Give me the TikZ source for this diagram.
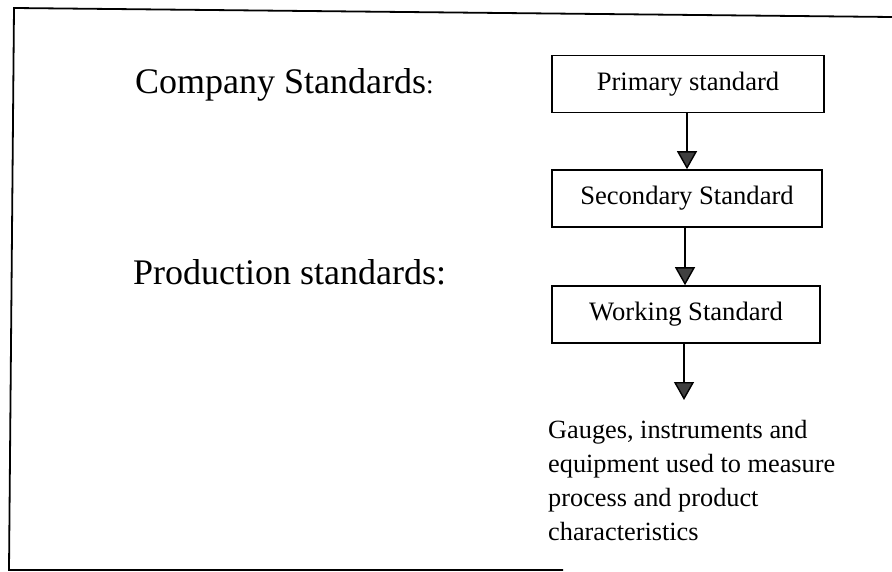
\documentclass[tikz,border=0pt]{standalone}
\usepackage{fontspec}
\setmainfont{Liberation Serif}
\usetikzlibrary{arrows.meta}
\begin{document}
\begin{tikzpicture}[x=1pt,y=-1pt,
  stdbox/.style={draw=black,line width=1.6pt,minimum width=270pt,minimum height=57pt,
    inner sep=0pt,font=\fontsize{26.6}{30}\selectfont},
  flow/.style={line width=1.4pt,-{Triangle[width=20pt,length=18pt,fill=black!75]}},
  biglabel/.style={anchor=west,inner sep=0pt,font=\fontsize{36}{42}\selectfont},
  frame/.style={line width=1.8pt}]
\useasboundingbox (0,0) rectangle (892,572);
% open outer frame
\draw[frame] (892,17) -- (14,8) -- (9,570) -- (563,570);
% left-hand labels
\node[biglabel] (company) at (135,85) {Company Standards{\fontsize{27}{30}\selectfont:}};
\node[biglabel] (production) at (133,272) {Production standards:};
% chain of standards
\node[stdbox,minimum width=272pt] (primary) at (688,84) {Primary standard};
\node[stdbox] (secondary) at (687,198.5) {Secondary Standard};
\node[stdbox,minimum width=268pt] (working) at (686,314.5) {Working Standard};
\coordinate (tip) at (684,400);
\draw[flow] (primary.south -| 687,0) -- (secondary.north -| 687,0);
\draw[flow] (secondary.south -| 685,0) -- (working.north -| 685,0);
\draw[flow] (working.south -| 684,0) -- (tip);
% what the working standard serves
\node[anchor=north west,inner sep=0pt,align=left,
  font=\fontsize{26.3}{34}\selectfont] (gauges) at (548,420)
  {Gauges, instruments and\\equipment used to measure\\process and product\\characteristics};
\end{tikzpicture}
\end{document}
